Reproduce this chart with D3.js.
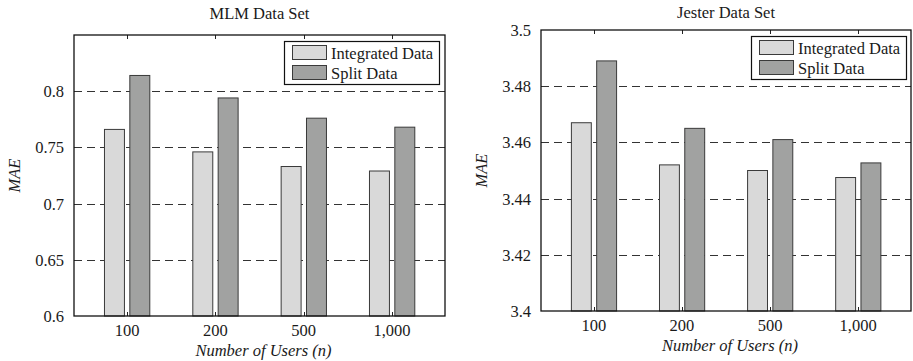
<!DOCTYPE html>
<html>
<head>
<meta charset="utf-8">
<script src="https://cdn.jsdelivr.net/npm/d3@7"></script>
<style>
body { margin: 0; background: #fff; }
svg text { font-family: "Liberation Serif", "Times New Roman", serif; fill: #1a1a1a; }
</style>
</head>
<body>
<script>
var W = 913, H = 361;
var categories = ["100", "200", "500", "1,000"];
var seriesNames = ["Integrated Data", "Split Data"];
var mlmIntegrated = [0.766, 0.746, 0.733, 0.729];
var mlmSplit = [0.814, 0.794, 0.776, 0.768];
var jesterIntegrated = [3.467, 3.452, 3.450, 3.4475];
var jesterSplit = [3.489, 3.465, 3.461, 3.4527];
var mlmTicks = [0.6, 0.65, 0.7, 0.75, 0.8];
var jesterTicks = [3.4, 3.42, 3.44, 3.46, 3.48, 3.5];
var colors = ["#d9d9d9", "#a1a2a1"];
var fs = "16.5px";

var svg = d3.select("body").append("svg")
    .attr("width", W)
    .attr("height", H);

function drawPanel(opt) {
    var x0 = opt.left, x1 = opt.right, y0 = opt.top, y1 = opt.bottom;
    var g = svg.append("g");

    // MATLAB-like xlim [0.4, 4.6]
    var x = d3.scaleLinear().domain([0.4, 4.6]).range([x0, x1]);
    var y = d3.scaleLinear().domain(opt.domain).range([y1, y0]);
    var bw = x(1.113) - x(0.887);
    var offs = [-0.142, 0.145];

    // dashed grid
    g.selectAll(".grid")
        .data(opt.ticks.filter(function (t) { return t > opt.domain[0] && t < opt.domain[1]; }))
        .enter().append("line")
        .attr("x1", x0).attr("x2", x1)
        .attr("y1", function (d) { return Math.round(y(d)) + 0.5; })
        .attr("y2", function (d) { return Math.round(y(d)) + 0.5; })
        .attr("stroke", "#333")
        .attr("stroke-width", 1)
        .attr("stroke-dasharray", "8,5");

    var series = [opt.integrated, opt.split];
    series.forEach(function (vals, s) {
        g.selectAll(".bar" + s)
            .data(vals)
            .enter().append("rect")
            .attr("x", function (d, i) { return x(i + 1 + offs[s]) - bw / 2; })
            .attr("y", function (d) { return y(d); })
            .attr("width", bw)
            .attr("height", function (d) { return y1 - y(d); })
            .attr("fill", colors[s])
            .attr("stroke", "#3a3a3a")
            .attr("stroke-width", 1);
    });

    // tick marks (inward, top and bottom)
    categories.forEach(function (c, i) {
        var xp = Math.round(x(i + 1)) + 0.5;
        g.append("line").attr("x1", xp).attr("x2", xp).attr("y1", y0).attr("y2", y0 + 4)
            .attr("stroke", "#222");
        g.append("line").attr("x1", xp).attr("x2", xp).attr("y1", y1).attr("y2", y1 - 4)
            .attr("stroke", "#222");
    });

    // frame
    g.append("rect")
        .attr("x", x0).attr("y", y0)
        .attr("width", x1 - x0).attr("height", y1 - y0)
        .attr("fill", "none")
        .attr("stroke", "#111")
        .attr("stroke-width", 1.3);

    // y tick labels
    g.selectAll(".ylab")
        .data(opt.ticks)
        .enter().append("text")
        .attr("x", x0 - 10)
        .attr("y", function (d) { return y(d) + 6; })
        .attr("text-anchor", "end")
        .style("font-size", fs)
        .text(function (d) { return opt.fmt(d); });

    // x tick labels
    g.selectAll(".xlab")
        .data(categories)
        .enter().append("text")
        .attr("x", function (d, i) { return x(i + 1); })
        .attr("y", y1 + 20)
        .attr("text-anchor", "middle")
        .style("font-size", fs)
        .text(function (d) { return d; });

    g.append("text")
        .attr("x", (x0 + x1) / 2 + 4)
        .attr("y", y1 + 40)
        .attr("text-anchor", "middle")
        .style("font-size", fs)
        .style("font-style", "italic")
        .text("Number of Users (n)");

    g.append("text")
        .attr("transform", "translate(" + (opt.left - 54) + "," + ((y0 + y1) / 2) + ") rotate(-90)")
        .attr("text-anchor", "middle")
        .style("font-size", fs)
        .style("font-style", "italic")
        .text("MAE");

    g.append("text")
        .attr("x", (x0 + x1) / 2)
        .attr("y", opt.titleY)
        .attr("text-anchor", "middle")
        .style("font-size", fs)
        .text(opt.title);

    // legend
    var L = opt.legend;
    g.append("rect")
        .attr("x", L.x + 0.5).attr("y", L.y + 0.5)
        .attr("width", L.w).attr("height", L.h)
        .attr("fill", "#fff").attr("stroke", "#111").attr("stroke-width", 1.2);
    seriesNames.forEach(function (n, s) {
        g.append("rect")
            .attr("x", L.x + 8.5).attr("y", L.y + 4.5 + s * 20)
            .attr("width", 34).attr("height", 14)
            .attr("fill", colors[s]).attr("stroke", "#3a3a3a");
        g.append("text")
            .attr("x", L.x + 47).attr("y", L.y + 17.5 + s * 20)
            .style("font-size", fs)
            .text(n);
    });
}

drawPanel({
    left: 74, right: 445, top: 35, bottom: 316,
    domain: [0.6, 0.85], ticks: mlmTicks,
    integrated: mlmIntegrated, split: mlmSplit,
    fmt: function (d) { return d3.format("")(+d.toFixed(2)); },
    title: "MLM Data Set", titleY: 19,
    legend: {x: 284, y: 41, w: 155, h: 43}
});

drawPanel({
    left: 541, right: 911, top: 30, bottom: 311,
    domain: [3.4, 3.5], ticks: jesterTicks,
    integrated: jesterIntegrated, split: jesterSplit,
    fmt: function (d) { return d3.format("")(+d.toFixed(2)); },
    title: "Jester Data Set", titleY: 18,
    legend: {x: 751, y: 36, w: 155, h: 43}
});
</script>
</body>
</html>
